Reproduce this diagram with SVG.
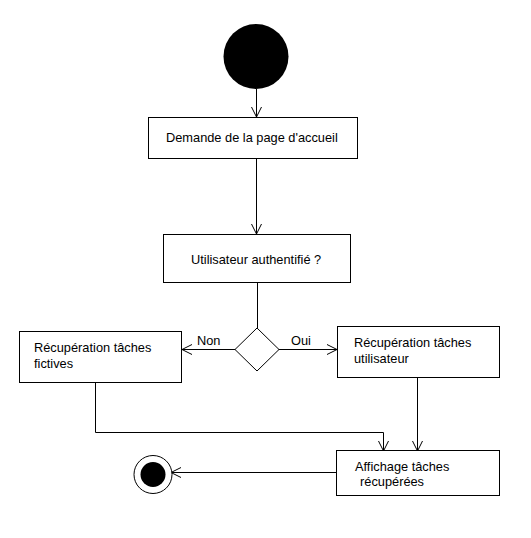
<svg xmlns="http://www.w3.org/2000/svg" width="531" height="538" viewBox="0 0 531 538">
<style>
.box{fill:#fff;stroke:#000;stroke-width:1}
.t{font-family:"Liberation Sans",Arial,sans-serif;font-size:12.8px;fill:#000}
.c{fill:none;stroke:#000;stroke-width:1}
</style>
<defs>
<marker id="arr" viewBox="0 0 12 12" refX="11" refY="6" markerWidth="12" markerHeight="12" markerUnits="userSpaceOnUse" orient="auto">
<path d="M1,1 L11,6 L1,11" fill="none" stroke="#000" stroke-width="1"/>
</marker>
</defs>
<rect width="531" height="538" fill="#fff"/>
<g id="connectors">
<line class="c" x1="256.5" y1="89" x2="256.5" y2="117" marker-end="url(#arr)"/>
<line class="c" x1="256.5" y1="158" x2="256.5" y2="234" marker-end="url(#arr)"/>
<line class="c" x1="257.5" y1="282" x2="257.5" y2="328"/>
<line class="c" x1="235" y1="349.5" x2="182" y2="349.5" marker-end="url(#arr)"/>
<line class="c" x1="279" y1="349.5" x2="337" y2="349.5" marker-end="url(#arr)"/>
<polyline class="c" points="95.5,382 95.5,432.5 383.5,432.5 383.5,451" marker-end="url(#arr)"/>
<line class="c" x1="417.5" y1="377" x2="417.5" y2="451" marker-end="url(#arr)"/>
<line class="c" x1="337" y1="472.5" x2="171" y2="472.5" marker-end="url(#arr)"/>
<text class="t" x="197" y="345">Non</text>
<text class="t" x="291" y="345">Oui</text>
</g>
<g id="start"><circle cx="256" cy="56.5" r="32.5" fill="#000"/></g>
<g id="n1"><rect class="box" x="148.5" y="117.5" width="209" height="41"/><text class="t" x="166" y="142">Demande de la page d'accueil</text></g>
<g id="n2"><rect class="box" x="163.5" y="234.5" width="187" height="48"/><text class="t" x="191" y="264">Utilisateur authentifié ?</text></g>
<g id="decision"><polygon points="257,328 279,349.5 257,371 235,349.5" fill="#fff" stroke="#000"/></g>
<g id="n3"><rect class="box" x="19.5" y="331.5" width="162" height="51"/><text class="t" x="34" y="352">Récupération tâches</text><text class="t" x="34" y="368">fictives</text></g>
<g id="n4"><rect class="box" x="337.5" y="326.5" width="162" height="51"/><text class="t" x="354" y="347">Récupération tâches</text><text class="t" x="354" y="363">utilisateur</text></g>
<g id="n5"><rect class="box" x="336.5" y="450.5" width="163" height="45"/><text class="t" x="355" y="471">Affichage tâches</text><text class="t" x="360" y="486">récupérées</text></g>
<g id="end"><circle cx="153" cy="474.5" r="19" fill="#fff" stroke="#000"/><circle cx="153" cy="474.5" r="12.5" fill="#000"/></g>
</svg>
